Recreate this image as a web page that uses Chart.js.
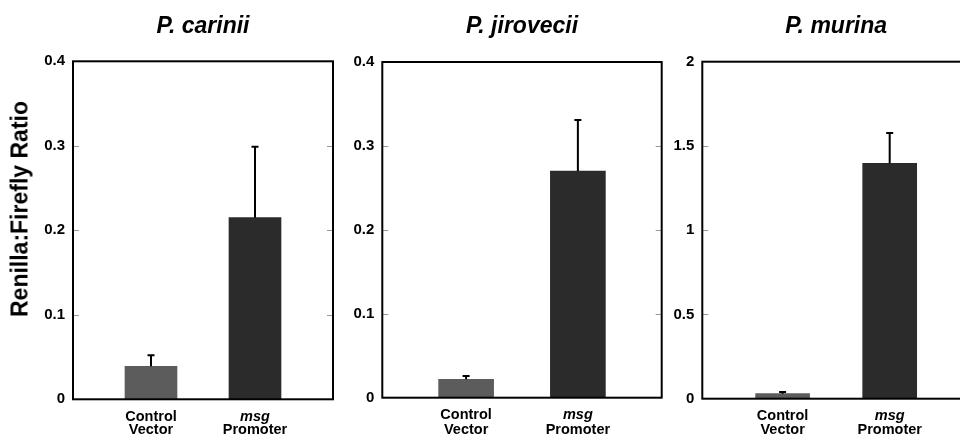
<!DOCTYPE html>
<html>
<head>
<meta charset="utf-8">
<script src="https://cdn.jsdelivr.net/npm/chart.js@4/dist/chart.umd.min.js"></script>
<style>
html, body { margin: 0; padding: 0; background: #fff; overflow: hidden; width: 960px; height: 435px; }
canvas { position: absolute; top: 0; }
#ytitle { position: absolute; left: 20px; top: 209px; transform: translate(-50%, -50%) rotate(-90deg);
  font: bold 23px "Liberation Sans", Arial, sans-serif; white-space: nowrap; color: #000; }
</style>
</head>
<body>
<canvas id="c0" width="345" height="435" style="left:0px"></canvas>
<canvas id="c1" width="330" height="435" style="left:340px"></canvas>
<canvas id="c2" width="310" height="435" style="left:665px"></canvas>
<div id="ytitle">Renilla:Firefly Ratio</div>
<script>
// data
const species = ['P. carinii', 'P. jirovecii', 'P. murina'];
const labelTop = ['Control', 'msg'];
const labelBottom = ['Vector', 'Promoter'];
const cariniiMean = [0.039, 0.215];
const cariniiSd = [0.013, 0.084];
const jiroveciiMean = [0.022, 0.270];
const jiroveciiSd = [0.004, 0.061];
const murinaMean = [0.030, 1.397];
const murinaSd = [0.010, 0.180];
const yMax = [0.4, 0.4, 2];
const yStep = [0.1, 0.1, 0.5];

const means = [cariniiMean, jiroveciiMean, murinaMean];
const sds = [cariniiSd, jiroveciiSd, murinaSd];

// layout of each panel (canvas px)
const slots = [0.3, 0.7];
const panels = [
  { yw: 73, padR: 12, top: 61.3, bottom: 399.3, bw: 52 },
  { yw: 42.3, padR: 8.3, top: 62, bottom: 397.7, bw: 55 },
  { yw: 37.3, padR: 5, top: 61.7, bottom: 398.7, bw: 54 }
];

Chart.defaults.font.family = '"Liberation Sans", Arial, Helvetica, sans-serif';
Chart.defaults.color = '#000';

const errorBars = {
  id: 'errorBars',
  afterDatasetsDraw(chart, args, opts) {
    const ctx = chart.ctx;
    const y = chart.scales.y;
    const ds = chart.data.datasets[0];
    chart.getDatasetMeta(0).data.forEach((bar, i) => {
      const top = y.getPixelForValue(ds.data[i].y + opts.sd[i]);
      ctx.save();
      ctx.strokeStyle = '#000';
      ctx.lineWidth = 2;
      ctx.beginPath();
      ctx.moveTo(bar.x, bar.y);
      ctx.lineTo(bar.x, top);
      ctx.moveTo(bar.x - 3.5, top);
      ctx.lineTo(bar.x + 3.5, top);
      ctx.stroke();
      ctx.restore();
    });
  }
};

const frame = {
  id: 'frame',
  afterDraw(chart) {
    const ctx = chart.ctx;
    const a = chart.chartArea;
    const y = chart.scales.y;
    ctx.save();
    ctx.strokeStyle = '#999';
    ctx.lineWidth = 1;
    y.ticks.forEach(t => {
      if (t.value === y.min || t.value === y.max) return;
      const py = Math.round(y.getPixelForValue(t.value)) + 0.5;
      ctx.beginPath();
      ctx.moveTo(a.left, py); ctx.lineTo(a.left + 6, py);
      ctx.moveTo(a.right - 6, py); ctx.lineTo(a.right, py);
      ctx.stroke();
    });
    ctx.strokeStyle = '#000';
    ctx.lineWidth = 2;
    ctx.strokeRect(a.left, a.top, a.right - a.left, a.bottom - a.top);
    ctx.restore();
  }
};

panels.forEach((p, k) => {
  const hx2 = 11;
  const hx = 435 - p.bottom - hx2;
  new Chart(document.getElementById('c' + k), {
    type: 'bar',
    data: {
      datasets: [{
        data: means[k].map((v, i) => ({ x: slots[i], y: v })),
        backgroundColor: ['#5c5c5c', '#2b2b2b'],
        barThickness: p.bw,
        xAxisID: 'x',
        yAxisID: 'y'
      }]
    },
    options: {
      responsive: false,
      animation: false,
      layout: { padding: { top: 0, right: p.padR, bottom: 0, left: 0 } },
      scales: {
        x: {
          type: 'linear', min: 0, max: 1, offset: false,
          afterBuildTicks: s => { s.ticks = slots.map(v => ({ value: v })); },
          afterFit: s => { s.height = hx; },
          grid: { display: false, drawTicks: false },
          border: { display: false },
          ticks: {
            autoSkip: false, maxRotation: 0, padding: 10,
            callback: (v, i) => labelTop[i],
            font: c => ({ size: 14.5, weight: 'bold', style: c.index === 1 ? 'italic' : 'normal', lineHeight: 1 })
          }
        },
        x2: {
          type: 'linear', position: 'bottom', min: 0, max: 1, offset: false,
          afterBuildTicks: s => { s.ticks = slots.map(v => ({ value: v })); },
          afterFit: s => { s.height = hx2; },
          grid: { display: false, drawTicks: false },
          border: { display: false },
          ticks: {
            autoSkip: false, maxRotation: 0, padding: -1,
            callback: (v, i) => labelBottom[i],
            font: { size: 14.5, weight: 'bold', lineHeight: 1 }
          }
        },
        y: {
          min: 0, max: yMax[k],
          afterFit: s => { s.width = p.yw; },
          grid: { display: false, drawTicks: false },
          border: { display: false },
          ticks: {
            stepSize: yStep[k], padding: 8, font: { size: 15, weight: 'bold' },
            callback: v => String(+v.toFixed(2))
          }
        }
      },
      plugins: {
        legend: { display: false },
        tooltip: { enabled: false },
        title: {
          display: true, text: species[k], fullSize: false, color: '#000',
          font: { size: 23, weight: 'bold', style: 'italic', lineHeight: 1.2 },
          padding: { top: 13, bottom: p.top - 13 - 27.6 }
        },
        errorBars: { sd: sds[k] }
      }
    },
    plugins: [errorBars, frame]
  });
});
</script>
</body>
</html>
